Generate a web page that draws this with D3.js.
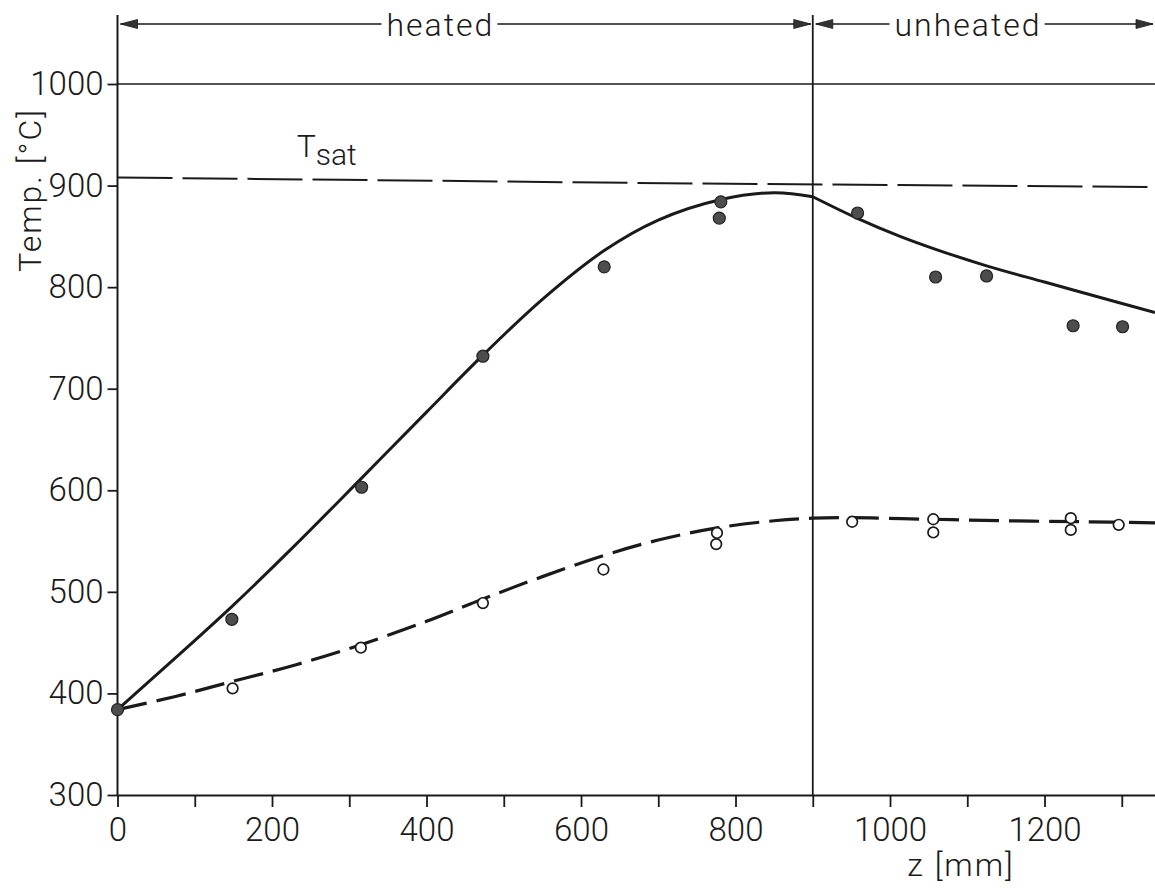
<!DOCTYPE html>
<html>
<head>
<meta charset="utf-8">
<script src="https://cdn.jsdelivr.net/npm/d3@7"></script>
<style>
  html, body { margin: 0; padding: 0; background: #fff; }
  svg text { font-family: Roboto, "Liberation Sans", sans-serif; font-weight: 300; fill: #1a1a1a; }
</style>
</head>
<body>
<svg id="chart" width="1155" height="891"></svg>
<script>
// Axial position z [mm] and temperatures [°C]
const zTicks = [0, 100, 200, 300, 400, 500, 600, 700, 800, 900, 1000, 1100, 1200, 1300];
const tempTicks = [300, 400, 500, 600, 700, 800, 900, 1000];

// Measured wall temperatures (filled symbols)
const wallZ = [0, 148, 316, 473, 630, 781, 779, 958, 1059, 1125, 1237, 1301];
const wallT = [384, 473, 603, 732, 820, 884, 868, 873, 810, 811, 762, 761];

// Measured vapour temperatures (open symbols)
const vapourZ = [149, 315, 473, 629, 776, 775, 951, 1056, 1056, 1234, 1234, 1296];
const vapourT = [405, 445, 489, 522, 558, 547, 569, 571.5, 558.5, 572.5, 561, 566];

// Calculated wall temperature, heated and unheated section
const wallCalcHeatedZ = [0, 75, 150, 230, 316, 400, 473, 550, 630, 700, 780, 850, 900];
const wallCalcHeatedT = [384, 435, 487, 546, 612, 677, 733, 788, 836, 866, 886, 893, 889];
const wallCalcUnheatedZ = [900, 957, 1013, 1060, 1125, 1200, 1271, 1343];
const wallCalcUnheatedT = [889, 868, 850, 837, 821, 805, 790, 775];

// Calculated vapour temperature
const vapourCalcZ = [0, 75, 150, 230, 315, 400, 473, 550, 630, 700, 776, 850, 900, 950, 1050, 1150, 1250, 1343];
const vapourCalcT = [384, 397, 412, 428, 448, 471, 493, 515, 536, 551, 563, 570, 572.5, 573, 571.5, 570, 569, 568];

// Saturation temperature
const satZ = [0, 750, 1343];
const satT = [908, 902, 898.5];

// Section bounds along z and their labels
const sectionLabels = ["heated", "unheated"];
const sectionFrom = [0, 900];
const sectionTo = [900, 1343];
const sectionLabelZ = [418, 1101];

const svg = d3.select("#chart");
const ink = "#1a1a1a";

const x = d3.scaleLinear().domain([0, 1343]).range([117.5, 1155]);
const y = d3.scaleLinear().domain([300, 1000]).range([795, 84]);
const yTop = 1068;

// Axes
const xAxis = d3.axisBottom(x)
  .tickValues(zTicks)
  .tickFormat(d => d % 200 === 0 ? d : "")
  .tickSize(12).tickSizeOuter(0).tickPadding(11);
const gx = svg.append("g").attr("transform", `translate(0,${y(300)})`).call(xAxis);
gx.select(".domain").attr("stroke", ink).attr("stroke-width", 2);
gx.selectAll(".tick line").attr("stroke", ink).attr("stroke-width", 1.8);
gx.selectAll(".tick text").attr("font-size", 33).attr("fill", ink)
  .style("font-family", "Roboto, sans-serif").style("font-weight", 300);

const yAxis = d3.axisLeft(y)
  .tickValues(tempTicks)
  .tickFormat(d3.format("d"))
  .tickSize(10).tickSizeOuter(0).tickPadding(4);
const gy = svg.append("g").attr("transform", `translate(${x(0)},0)`).call(yAxis);
gy.select(".domain").remove();
gy.append("line").attr("x1", 0).attr("x2", 0).attr("y1", y(300)).attr("y2", y(yTop))
  .attr("stroke", ink).attr("stroke-width", 2);
gy.selectAll(".tick line").attr("stroke", ink).attr("stroke-width", 1.8);
gy.selectAll(".tick text").attr("font-size", 33).attr("fill", ink)
  .style("font-family", "Roboto, sans-serif").style("font-weight", 300);

// Reference line at 1000 °C
svg.append("line")
  .attr("x1", x(0)).attr("x2", x(1343)).attr("y1", y(1000)).attr("y2", y(1000))
  .attr("stroke", ink).attr("stroke-width", 1.6);

// Boundary between heated and unheated section
svg.append("line")
  .attr("x1", x(900)).attr("x2", x(900)).attr("y1", y(300)).attr("y2", y(yTop))
  .attr("stroke", ink).attr("stroke-width", 1.8);

// Saturation temperature line
const straight = d3.line().x(d => x(d[0])).y(d => y(d[1]));
svg.append("path")
  .attr("d", straight(satZ.map((z, i) => [z, satT[i]])))
  .attr("fill", "none").attr("stroke", ink).attr("stroke-width", 2)
  .attr("stroke-dasharray", "55 10");

const tsat = svg.append("text").attr("x", x(232)).attr("y", y(928)).attr("font-size", 32);
tsat.append("tspan").text("T");
tsat.append("tspan").attr("dy", 8).attr("font-size", 30).text("sat");

// Calculated curves
const smooth = d3.line().x(d => x(d[0])).y(d => y(d[1])).curve(d3.curveCatmullRom.alpha(0.5));
[[wallCalcHeatedZ, wallCalcHeatedT], [wallCalcUnheatedZ, wallCalcUnheatedT]].forEach(([zs, ts]) => {
  svg.append("path")
    .attr("d", smooth(zs.map((z, i) => [z, ts[i]])))
    .attr("fill", "none").attr("stroke", ink).attr("stroke-width", 3)
    .attr("stroke-linejoin", "round");
});
svg.append("path")
  .attr("d", smooth(vapourCalcZ.map((z, i) => [z, vapourCalcT[i]])))
  .attr("fill", "none").attr("stroke", ink).attr("stroke-width", 3.2)
  .attr("stroke-dasharray", "30 10");

// Measured points
svg.append("g").selectAll("circle")
  .data(vapourZ.map((z, i) => [z, vapourT[i]]))
  .join("circle")
  .attr("cx", d => x(d[0])).attr("cy", d => y(d[1])).attr("r", 5.3)
  .attr("fill", "#fff").attr("stroke", ink).attr("stroke-width", 1.7);
svg.append("g").selectAll("circle")
  .data(wallZ.map((z, i) => [z, wallT[i]]))
  .join("circle")
  .attr("cx", d => x(d[0])).attr("cy", d => y(d[1])).attr("r", 6)
  .attr("fill", "#4d4d4d").attr("stroke", "#222").attr("stroke-width", 1.2);

// Section arrows along the top
const arrowY = 24;
function arrowHead(tipX, dir) {
  const len = 17, half = 4.5;
  const p = d3.path();
  p.moveTo(tipX, arrowY);
  p.lineTo(tipX - dir * len, arrowY - half);
  p.lineTo(tipX - dir * len, arrowY + half);
  p.closePath();
  svg.append("path").attr("d", p.toString()).attr("fill", "#333").attr("stroke", ink).attr("stroke-width", 0.8);
}
sectionLabels.forEach((label, i) => {
  const left = x(sectionFrom[i]) + 3;
  const right = Math.min(x(sectionTo[i]) - 2, 1154);
  const t = svg.append("text")
    .attr("x", x(sectionLabelZ[i])).attr("y", arrowY)
    .attr("dy", "0.36em").attr("text-anchor", "middle")
    .attr("font-size", 32).attr("letter-spacing", 2)
    .text(label);
  const bb = t.node().getBBox();
  svg.append("line").attr("x1", left).attr("x2", bb.x - 5).attr("y1", arrowY).attr("y2", arrowY)
    .attr("stroke", ink).attr("stroke-width", 1.6);
  svg.append("line").attr("x1", bb.x + bb.width + 3).attr("x2", right).attr("y1", arrowY).attr("y2", arrowY)
    .attr("stroke", ink).attr("stroke-width", 1.6);
  arrowHead(left, -1);
  arrowHead(right, 1);
});

// Axis titles
svg.append("text")
  .attr("transform", "translate(41,190) rotate(-90)")
  .attr("text-anchor", "middle").attr("font-size", 32).attr("letter-spacing", 2)
  .text("Temp. [°C]");
svg.append("text")
  .attr("x", 961).attr("y", 876)
  .attr("text-anchor", "middle").attr("font-size", 32).attr("letter-spacing", 2)
  .text("z [mm]");
</script>
</body>
</html>
